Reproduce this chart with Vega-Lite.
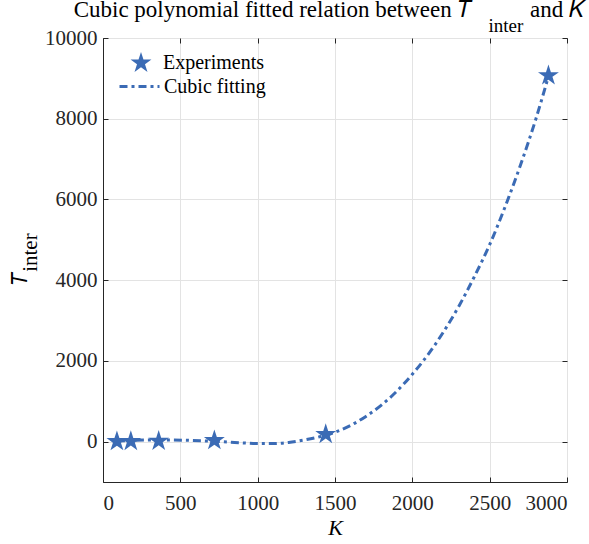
{
  "$schema": "https://vega.github.io/schema/vega-lite/v6.json",
  "autosize": "none",
  "width": 464,
  "height": 444,
  "padding": {"left": 103, "top": 38, "right": 22, "bottom": 62},
  "background": "white",
  "config": {
    "font": "Liberation Serif, Times New Roman, serif",
    "view": {"stroke": "#262626", "strokeWidth": 1},
    "axis": {
      "labelFont": "Liberation Serif, Times New Roman, serif",
      "labelFontSize": 21,
      "labelColor": "#262626",
      "domainColor": "#262626",
      "tickColor": "#262626",
      "gridColor": "#e3e3e3",
      "gridWidth": 1,
      "titleFont": "Liberation Serif, Times New Roman, serif",
      "titleFontSize": 21,
      "titleFontWeight": "normal",
      "titleColor": "#000000"
    },
    "legend": {
      "labelFont": "Liberation Serif, Times New Roman, serif",
      "labelFontSize": 20,
      "labelColor": "#000000"
    }
  },
  "title": {
    "text": "Cubic polynomial fitted relation between 𝑇\u00a0\u00a0\u00a0\u00a0\u00a0\u00a0\u00a0\u00a0\u00a0\u00a0and 𝐾",
    "subtitle": "inter\u00a0\u00a0\u00a0\u00a0\u00a0\u00a0\u00a0\u00a0\u00a0\u00a0\u00a0\u00a0\u00a0\u200b",
    "anchor": "end",
    "frame": "group",
    "dx": 18,
    "offset": -9,
    "font": "Liberation Serif, Times New Roman, serif",
    "fontSize": 23,
    "fontWeight": "normal",
    "color": "#000000",
    "subtitleFont": "Liberation Serif, Times New Roman, serif",
    "subtitleFontSize": 19,
    "subtitleColor": "#000000",
    "subtitlePadding": -5
  },
  "layer": [
    {
      "data": {"values": [
        {"K": 90, "T": 15, "series": "Cubic fitting"}, {"K": 180, "T": 30, "series": "Cubic fitting"},
        {"K": 270, "T": 38, "series": "Cubic fitting"}, {"K": 360, "T": 42, "series": "Cubic fitting"},
        {"K": 450, "T": 40, "series": "Cubic fitting"}, {"K": 540, "T": 33, "series": "Cubic fitting"},
        {"K": 630, "T": 22, "series": "Cubic fitting"}, {"K": 720, "T": 8, "series": "Cubic fitting"},
        {"K": 810, "T": -10, "series": "Cubic fitting"}, {"K": 900, "T": -30, "series": "Cubic fitting"},
        {"K": 1000, "T": -48, "series": "Cubic fitting"}, {"K": 1100, "T": -48, "series": "Cubic fitting"},
        {"K": 1200, "T": -20, "series": "Cubic fitting"}, {"K": 1300, "T": 40, "series": "Cubic fitting"},
        {"K": 1400, "T": 120, "series": "Cubic fitting"}, {"K": 1440, "T": 160, "series": "Cubic fitting"},
        {"K": 1500, "T": 235, "series": "Cubic fitting"}, {"K": 1600, "T": 400, "series": "Cubic fitting"},
        {"K": 1700, "T": 625, "series": "Cubic fitting"}, {"K": 1800, "T": 905, "series": "Cubic fitting"},
        {"K": 1900, "T": 1250, "series": "Cubic fitting"}, {"K": 2000, "T": 1670, "series": "Cubic fitting"},
        {"K": 2100, "T": 2150, "series": "Cubic fitting"}, {"K": 2200, "T": 2710, "series": "Cubic fitting"},
        {"K": 2300, "T": 3350, "series": "Cubic fitting"}, {"K": 2400, "T": 4080, "series": "Cubic fitting"},
        {"K": 2500, "T": 4880, "series": "Cubic fitting"}, {"K": 2600, "T": 5820, "series": "Cubic fitting"},
        {"K": 2700, "T": 6860, "series": "Cubic fitting"}, {"K": 2800, "T": 8010, "series": "Cubic fitting"},
        {"K": 2880, "T": 9050, "series": "Cubic fitting"}
      ]},
      "mark": {"type": "line", "color": "#3b6bb5", "strokeWidth": 3, "interpolate": "monotone"},
      "encoding": {
        "x": {
          "field": "K", "type": "quantitative",
          "scale": {"domain": [0, 3000], "nice": false},
          "axis": {
            "orient": "bottom",
            "values": [0, 500, 1000, 1500, 2000, 2500, 3000],
            "format": "d",
            "grid": true,
            "tickSize": -5,
            "labelPadding": 15,
            "title": "K",
            "titleFontStyle": "italic",
            "titleFontSize": 22,
            "titleBaseline": "top",
            "titleY": 35
          }
        },
        "y": {
          "field": "T", "type": "quantitative",
          "scale": {"domain": [-1000, 10000], "nice": false, "zero": false},
          "axis": {
            "orient": "left",
            "values": [0, 2000, 4000, 6000, 8000, 10000],
            "format": "d",
            "grid": true,
            "tickSize": -5,
            "labelPadding": 11,
            "title": ["𝑇\u00a0\u00a0\u00a0\u00a0\u00a0\u00a0\u00a0\u200b", "\u200b\u00a0\u00a0\u00a0inter"],
            "titleAngle": -90,
            "titleAlign": "center",
            "titleBaseline": "top",
            "titleX": -94,
            "titleY": 222,
            "titleLineHeight": 10
          }
        },
        "strokeDash": {
          "field": "series", "type": "nominal",
          "scale": {"domain": ["Cubic fitting"], "range": [[8, 4, 3, 4]]},
          "legend": {
            "orient": "none",
            "legendX": 15,
            "legendY": 27,
            "title": null,
            "padding": 0,
            "symbolType": "stroke",
            "symbolSize": 1600,
            "symbolStrokeWidth": 3,
            "symbolStrokeColor": "#3b6bb5",
            "labelOffset": 3
          }
        }
      }
    },
    {
      "data": {"values": [
        {"K": 90, "T": 5, "series": "Experiments"},
        {"K": 180, "T": 8, "series": "Experiments"},
        {"K": 360, "T": 15, "series": "Experiments"},
        {"K": 720, "T": 30, "series": "Experiments"},
        {"K": 1440, "T": 180, "series": "Experiments"},
        {"K": 2880, "T": 9070, "series": "Experiments"}
      ]},
      "mark": {"type": "point", "filled": true, "size": 484, "opacity": 1, "color": "#3b6bb5", "strokeWidth": 0},
      "encoding": {
        "x": {
          "field": "K", "type": "quantitative",
          "axis": {"orient": "top", "values": [0, 500, 1000, 1500, 2000, 2500, 3000], "labels": false, "domain": false, "grid": false, "tickSize": -5, "title": null}
        },
        "y": {
          "field": "T", "type": "quantitative",
          "axis": {"orient": "right", "values": [0, 2000, 4000, 6000, 8000, 10000], "labels": false, "domain": false, "grid": false, "tickSize": -5, "title": null}
        },
        "shape": {
          "field": "series", "type": "nominal",
          "scale": {
            "domain": ["Experiments"],
            "range": ["M0,-1L0.2245,-0.309L0.951,-0.309L0.363,0.118L0.588,0.809L0,0.382L-0.588,0.809L-0.363,0.118L-0.951,-0.309L-0.2245,-0.309Z"]
          },
          "legend": {
            "orient": "none",
            "legendX": 26,
            "legendY": 13,
            "title": null,
            "padding": 0,
            "symbolSize": 484,
            "symbolFillColor": "#3b6bb5",
            "labelOffset": 10
          }
        }
      }
    }
  ],
  "resolve": {"axis": {"x": "independent", "y": "independent"}}
}
